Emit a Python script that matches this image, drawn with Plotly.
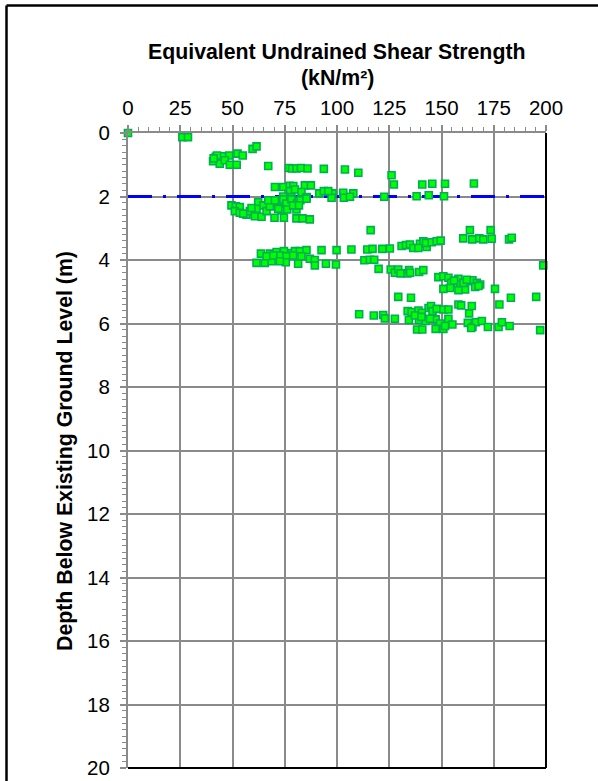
import plotly.graph_objects as go

# ---- data: equivalent undrained shear strength (kN/m2) vs depth (m) ----
su_values = [
    0, 26.0, 28.7,
    59.6, 61.5, 52.4, 54.9, 48.4, 45.0, 42.0, 42.6, 40.7, 43.9, 46.3, 48.7, 52.0, 41.0,
    67.1, 77.0, 78.5, 80.6, 82.7, 85.9, 93.7, 103.8, 110.2, 126.1,
    70.3, 74.3, 77.4, 79.1, 84.6, 87.5, 77.5, 79.9, 83.0, 91.5, 93.7, 97.9, 103.0, 107.8,
    97.4, 103.3, 106.2, 74.3, 78.2, 85.5, 95.8, 127.2, 140.8, 145.6, 151.7, 165.5,
    122.6, 138.1, 143.9, 151.2,
    49.5, 51.6, 53.5, 51.1, 53.5, 56.7, 58.3, 60.7, 63.9, 62.3, 64.7, 66.3, 68.7, 71.1,
    72.7, 74.3, 75.8, 78.2, 73.5, 76.2, 80.6, 80.9, 82.5, 85.4, 70.1, 74.6, 80.6, 83.5,
    87.0, 61.5, 59.1, 67.9, 71.9, 79.0, 81.8, 67.1, 70.3, 55.1,
    63.6, 67.9, 71.1, 74.6, 78.2, 79.9, 82.2, 85.4, 92.6, 99.8, 106.9, 61.5, 65.5, 68.7,
    72.7, 75.8, 79.0, 83.0, 87.0, 89.4, 75.5, 81.4, 89.4, 94.7, 99.5, 66.3, 69.5, 72.7,
    114.5, 117.0, 121.7, 125.3, 130.9, 133.0, 134.9, 136.5, 139.7, 141.3, 142.9, 142.6,
    145.3, 147.7, 149.6, 138.9,
    116.1, 163.6, 173.5, 160.4, 164.7, 168.1, 170.0, 174.0, 182.3, 183.6,
    113.1, 115.7, 117.8, 198.7,
    119.9, 125.7, 127.7, 129.3, 130.4, 133.7, 134.5, 135.0, 139.3, 141.3,
    148.5, 150.9, 153.3, 154.6, 158.1, 158.9, 162.9, 164.8, 166.9, 168.5, 166.1, 161.3,
    158.1, 154.1, 150.9, 175.6, 156.0, 160.5, 162.1, 167.7,
    129.3, 135.4, 183.2, 195.3, 177.7, 158.1, 159.4, 164.5, 163.2,
    133.8, 135.7, 139.0, 143.8, 145.0, 145.7, 147.7, 150.9, 153.3, 140.6, 110.6,
    117.6, 122.1, 122.9, 127.7, 134.4, 139.2, 142.4, 147.2, 153.3, 144.5, 149.3, 155.2,
    162.6, 164.8, 166.5, 169.3, 172.2, 177.3, 178.9, 182.6, 137.3, 140.4,
    138.3, 140.8, 147.2, 150.9, 151.7, 197.2, 164.2,
]
depth_values = [
    0, 0.13, 0.13,
    0.50, 0.42, 0.65, 0.71, 0.71, 0.73, 0.75, 0.71, 0.89, 0.97, 0.86, 1.00, 1.00, 0.80,
    1.04, 1.10, 1.12, 1.12, 1.10, 1.12, 1.13, 1.15, 1.25, 1.33,
    1.70, 1.70, 1.66, 1.67, 1.65, 1.65, 1.83, 1.78, 1.86, 1.90, 1.83, 1.90, 1.88, 1.90,
    2.04, 2.04, 2.01, 2.00, 2.02, 2.02, 1.83, 1.62, 1.62, 1.60, 1.60, 1.59,
    2.01, 1.99, 1.96, 1.99,
    2.28, 2.31, 2.33, 2.46, 2.51, 2.57, 2.46, 2.62, 2.64, 2.18, 2.28, 2.46, 2.20, 2.25,
    2.15, 2.09, 2.22, 2.09, 2.43, 2.41, 2.41, 2.22, 2.12, 2.07, 2.67, 2.67, 2.69, 2.69,
    2.72, 2.39, 2.36, 2.31, 2.39, 2.28, 2.28, 2.12, 2.12, 2.54,
    3.80, 3.80, 3.75, 3.72, 3.78, 3.72, 3.72, 3.69, 3.69, 3.69, 3.67, 4.09, 4.09, 4.04,
    3.86, 3.88, 3.86, 3.88, 3.96, 4.00, 4.07, 4.12, 4.17, 4.12, 4.14, 3.88, 3.86, 4.04,
    3.67, 3.65, 3.65, 3.64, 3.56, 3.53, 3.51, 3.62, 3.49, 3.41, 3.59, 3.46,
    3.44, 3.41, 3.39, 3.62,
    3.06, 3.06, 3.06, 3.32, 3.35, 3.32, 3.35, 3.33, 3.35, 3.30,
    4.01, 3.99, 3.99, 4.17,
    4.28, 4.30, 4.40, 4.30, 4.42, 4.42, 4.32, 4.40, 4.38, 4.32,
    4.54, 4.51, 4.56, 4.72, 4.59, 4.77, 4.67, 4.64, 4.72, 4.77, 4.85, 4.93,
    4.95, 4.88, 4.91, 4.91, 4.65, 4.72, 4.62, 4.82,
    5.16, 5.19, 5.19, 5.16, 5.40, 5.40, 5.43, 5.45, 5.68,
    5.61, 5.64, 5.59, 5.51, 5.45, 5.61, 5.54, 5.56, 5.56, 5.66, 5.71,
    5.75, 5.73, 5.84, 5.85, 5.89, 5.89, 5.92, 5.87, 5.85, 5.85, 6.00, 6.03,
    5.98, 6.11, 5.96, 5.92, 6.11, 6.11, 5.96, 6.08, 5.75, 5.79,
    6.19, 6.19, 6.17, 6.17, 6.08, 6.21, 6.14,
]

# reference level line at 2 m depth
level_x = [0, 200]
level_depth = [2, 2]

x_ticks = [0, 25, 50, 75, 100, 125, 150, 175, 200]
y_ticks = [0, 2, 4, 6, 8, 10, 12, 14, 16, 18, 20]

FONT = "Liberation Sans, Arial, sans-serif"
GRID = "#8a8a8a"

fig = go.Figure()

fig.add_trace(go.Scatter(
    x=level_x, y=level_depth, mode="lines",
    line=dict(color="#0000FF", width=3, dash="24px,11px,3px,11px"),
    hoverinfo="skip", showlegend=False,
))

fig.add_trace(go.Scatter(
    x=su_values, y=depth_values, mode="markers",
    marker=dict(symbol="square", size=7, color="#00FF00",
                line=dict(color="#00B050", width=1.6)),
    cliponaxis=False, showlegend=False,
))

fig.update_layout(
    width=598, height=781,
    margin=dict(l=128, r=52, t=133, b=13, autoexpand=False),
    paper_bgcolor="white", plot_bgcolor="white",
    font=dict(family=FONT, color="black", size=20),
    showlegend=False,
)

fig.update_xaxes(
    side="top", range=[0, 200], tickvals=x_ticks,
    ticktext=[str(v) for v in x_ticks],
    showgrid=True, gridcolor=GRID, gridwidth=1.7,
    showline=True, linecolor=GRID, linewidth=2,
    ticks="outside", ticklen=6, tickcolor=GRID, tickwidth=1.5,
    ticklabelstandoff=2, automargin=False,
    tickfont=dict(size=20.5, family=FONT, color="black"),
    minor=dict(dtick=5, ticks="outside", ticklen=4, tickcolor=GRID, tickwidth=1.2, showgrid=False),
    zeroline=False, fixedrange=True,
)
fig.update_yaxes(
    range=[20, 0], tickvals=y_ticks,
    ticktext=[str(v) for v in y_ticks],
    showgrid=True, gridcolor=GRID, gridwidth=1.7,
    showline=True, linecolor=GRID, linewidth=2,
    ticks="outside", ticklen=6, tickcolor=GRID, tickwidth=1.5,
    ticklabelstandoff=6, automargin=False,
    tickfont=dict(size=20.5, family=FONT, color="black"),
    minor=dict(dtick=0.2, ticks="outside", ticklen=4, tickcolor=GRID, tickwidth=1.2, showgrid=False),
    zeroline=False, fixedrange=True,
)

# plot-area black border on right and bottom
fig.add_shape(type="line", xref="paper", yref="paper", x0=1, x1=1, y0=0, y1=1,
              line=dict(color="black", width=2))
fig.add_shape(type="line", xref="paper", yref="paper", x0=0, x1=1, y0=0, y1=0,
              line=dict(color="black", width=2))

# outer chart frame (top and left edges visible)
def px_to_paper_x(px):
    return (px - 128) / 418.0

def px_to_paper_y(py):
    return (768 - py) / 635.0

fig.add_shape(type="line", xref="paper", yref="paper",
              x0=px_to_paper_x(6.5), x1=px_to_paper_x(640),
              y0=px_to_paper_y(5.5), y1=px_to_paper_y(5.5),
              line=dict(color="black", width=2.5))
fig.add_shape(type="line", xref="paper", yref="paper",
              x0=px_to_paper_x(6.5), x1=px_to_paper_x(6.5),
              y0=px_to_paper_y(5.5), y1=px_to_paper_y(820),
              line=dict(color="black", width=2.5))

# titles
fig.add_annotation(text="<b>Equivalent Undrained Shear Strength</b>",
                   xref="paper", yref="paper", x=0.5, y=px_to_paper_y(52),
                   xanchor="center", yanchor="middle", showarrow=False,
                   font=dict(size=21.3, family=FONT, color="black"))
fig.add_annotation(text="<b>(kN/m²)</b>",
                   xref="paper", yref="paper", x=0.5, y=px_to_paper_y(78),
                   xanchor="center", yanchor="middle", showarrow=False,
                   font=dict(size=21.3, family=FONT, color="black"))
fig.add_annotation(text="<b>Depth Below Existing Ground Level (m)</b>",
                   xref="paper", yref="paper", x=px_to_paper_x(65), y=px_to_paper_y(451),
                   xanchor="center", yanchor="middle", showarrow=False, textangle=-90,
                   font=dict(size=21.3, family=FONT, color="black"))

fig.write_html("out.html",
               config={"displayModeBar": False},
               post_script="document.body.style.margin='0px';document.body.style.padding='0px';")
